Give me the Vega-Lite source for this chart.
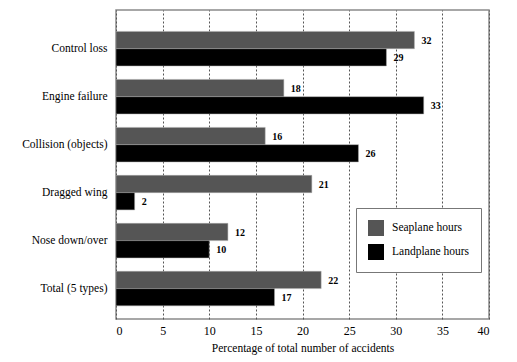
{
  "$schema": "https://vega.github.io/schema/vega-lite/v6.json",
  "width": 373,
  "height": 309,
  "autosize": "none",
  "padding": {"left": 116, "top": 10, "right": 28, "bottom": 43},
  "background": "white",
  "config": {
    "font": "Liberation Serif",
    "view": {"stroke": "#8a8a8a", "strokeWidth": 1.5}
  },
  "data": {
    "values": [
      {"cause": "Control loss", "series": "Seaplane hours", "pct": 32},
      {"cause": "Control loss", "series": "Landplane hours", "pct": 29},
      {"cause": "Engine failure", "series": "Seaplane hours", "pct": 18},
      {"cause": "Engine failure", "series": "Landplane hours", "pct": 33},
      {"cause": "Collision (objects)", "series": "Seaplane hours", "pct": 16},
      {"cause": "Collision (objects)", "series": "Landplane hours", "pct": 26},
      {"cause": "Dragged wing", "series": "Seaplane hours", "pct": 21},
      {"cause": "Dragged wing", "series": "Landplane hours", "pct": 2},
      {"cause": "Nose down/over", "series": "Seaplane hours", "pct": 12},
      {"cause": "Nose down/over", "series": "Landplane hours", "pct": 10},
      {"cause": "Total (5 types)", "series": "Seaplane hours", "pct": 22},
      {"cause": "Total (5 types)", "series": "Landplane hours", "pct": 17}
    ]
  },
  "encoding": {
    "y": {
      "field": "cause",
      "type": "nominal",
      "sort": null,
      "scale": {"paddingInner": 0.28, "paddingOuter": 0.36, "align": 0.62},
      "axis": {
        "title": null,
        "domain": false,
        "ticks": false,
        "grid": false,
        "labelFont": "Liberation Serif",
        "labelFontSize": 11.5,
        "labelColor": "black",
        "labelPadding": 9
      }
    },
    "yOffset": {
      "field": "series",
      "type": "nominal",
      "sort": ["Seaplane hours", "Landplane hours"],
      "scale": {"paddingInner": 0, "paddingOuter": 0}
    },
    "x": {
      "field": "pct",
      "type": "quantitative",
      "scale": {"domain": [0, 40], "nice": false},
      "axis": {
        "title": "Percentage of total number of accidents",
        "titleFont": "Liberation Serif",
        "titleFontSize": 11.5,
        "titleFontWeight": "normal",
        "titleColor": "black",
        "titlePadding": 6,
        "values": [0, 5, 10, 15, 20, 25, 30, 35, 40],
        "labelFont": "Liberation Serif",
        "labelFontSize": 12,
        "labelColor": "black",
        "labelPadding": 6,
        "ticks": false,
        "domain": false,
        "grid": true,
        "gridColor": "#555555",
        "gridDash": [2, 2],
        "gridWidth": 1
      }
    }
  },
  "layer": [
    {
      "mark": {"type": "bar", "stroke": "#aaaaaa", "strokeWidth": 0.5},
      "encoding": {
        "color": {
          "field": "series",
          "type": "nominal",
          "sort": ["Seaplane hours", "Landplane hours"],
          "scale": {"domain": ["Seaplane hours", "Landplane hours"], "range": ["#555555", "#000000"]},
          "legend": {
            "title": null,
            "orient": "none",
            "legendX": 240,
            "legendY": 198,
            "symbolType": "square",
            "symbolSize": 256,
            "symbolStrokeWidth": 0,
            "labelFont": "Liberation Serif",
            "labelFontSize": 11.5,
            "labelColor": "black",
            "labelOffset": 8,
            "rowPadding": 8,
            "padding": 12,
            "strokeColor": "#777777",
            "fillColor": "white"
          }
        }
      }
    },
    {
      "mark": {"type": "text", "align": "left", "dx": 7, "dy": 1, "fontSize": 10, "fontWeight": "bold", "font": "Liberation Serif", "color": "black"},
      "encoding": {
        "text": {"field": "pct", "type": "quantitative"}
      }
    }
  ]
}
